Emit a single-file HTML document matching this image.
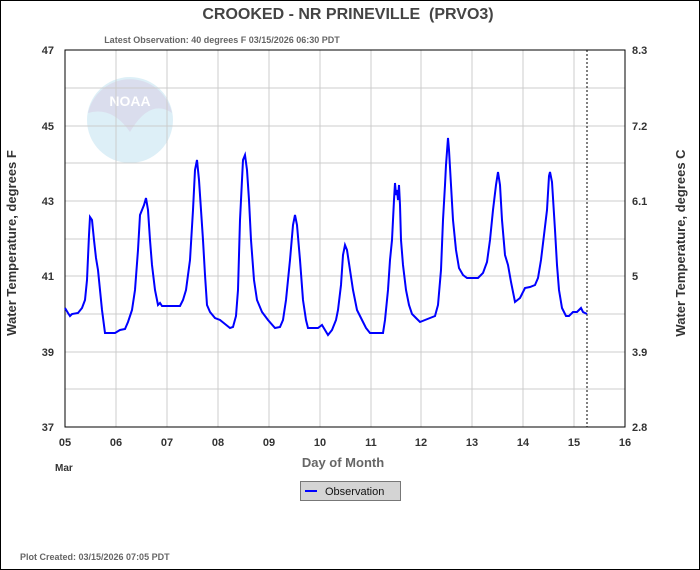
<!DOCTYPE html>
<html><head><style>
body{margin:0;width:700px;height:570px;overflow:hidden;background:#fff}
svg{display:block}
text{font-family:"Liberation Sans",sans-serif}
</style></head><body>
<svg width="700" height="570" xmlns="http://www.w3.org/2000/svg">
<rect x="0.5" y="0.5" width="699" height="569" fill="#fff" stroke="#000"/>
<text x="348" y="19" font-size="16" font-weight="bold" fill="#444" text-anchor="middle">CROOKED - NR PRINEVILLE&#160; (PRVO3)</text>
<text x="222" y="43" font-size="9" font-weight="bold" fill="#666" text-anchor="middle">Latest Observation: 40 degrees F 03/15/2026 06:30 PDT</text>
<g opacity="0.6">
<circle cx="130" cy="120" r="43" fill="#c8e6f2"/>
<path d="M88,113 A43,43 0 0 1 172,113 Q150,98 130,132 Q112,106 88,113Z" fill="#c3c8e2"/>
<text x="130" y="106" font-size="14" font-weight="bold" fill="#fff" text-anchor="middle">NOAA</text>
</g>
<g stroke="#ccc" stroke-width="1">
<line x1="116" y1="50" x2="116" y2="427"/><line x1="167" y1="50" x2="167" y2="427"/><line x1="218" y1="50" x2="218" y2="427"/><line x1="269" y1="50" x2="269" y2="427"/><line x1="320" y1="50" x2="320" y2="427"/><line x1="371" y1="50" x2="371" y2="427"/><line x1="421" y1="50" x2="421" y2="427"/><line x1="472" y1="50" x2="472" y2="427"/><line x1="523" y1="50" x2="523" y2="427"/><line x1="574" y1="50" x2="574" y2="427"/>
<line x1="65" y1="88" x2="625" y2="88"/><line x1="65" y1="126" x2="625" y2="126"/><line x1="65" y1="163" x2="625" y2="163"/><line x1="65" y1="201" x2="625" y2="201"/><line x1="65" y1="239" x2="625" y2="239"/><line x1="65" y1="276" x2="625" y2="276"/><line x1="65" y1="314" x2="625" y2="314"/><line x1="65" y1="352" x2="625" y2="352"/><line x1="65" y1="389" x2="625" y2="389"/>
</g>
<rect x="65" y="50" width="560" height="377" fill="none" stroke="#000"/>
<line x1="587" y1="50" x2="587" y2="427" stroke="#000" stroke-dasharray="2,2"/>
<polyline fill="none" stroke="#0000ff" stroke-width="2" points="65,308 68,313 70,316 72,314 78,313 82,308 85,300 87,280 89,235 90,217 92,220 94,240 96,258 98,270 100,290 102,310 105,333 115,333 120,330 125,329 128,322 132,310 135,290 138,250 140,215 142,210 144,205 146,198 148,210 150,240 152,265 155,290 158,305 160,303 162,306 180,306 183,300 186,290 190,260 193,210 195,170 197,160 199,180 201,210 203,240 205,275 207,305 210,312 215,318 220,320 225,324 230,328 233,327 236,316 238,290 240,220 243,160 245,155 247,170 249,200 251,240 254,280 257,300 262,312 268,320 275,328 280,327 283,320 286,300 290,260 293,225 295,215 297,225 300,260 303,300 306,320 308,328 318,328 322,325 325,330 328,335 332,330 336,320 338,310 341,285 343,255 345,245 347,250 350,270 353,290 357,310 362,320 366,328 370,333 383,333 385,320 388,290 390,260 392,240 394,200 395,183 396,195 397,190 398,200 399,185 400,205 401,240 403,265 406,290 409,305 412,314 416,318 420,322 430,318 435,316 438,305 441,270 443,220 445,185 446,165 448,138 449,150 451,185 453,220 456,250 459,268 463,275 467,278 478,278 483,273 487,262 490,240 493,210 496,185 498,172 500,185 502,220 505,255 508,265 511,282 515,302 520,298 525,288 530,287 535,285 538,278 541,260 544,235 547,210 549,176 550,172 552,182 555,230 557,265 559,290 562,308 566,316 569,316 573,312 577,312 579,310 581,308 583,312 587,314"/>
<g font-size="11" font-weight="bold" fill="#333" text-anchor="end">
<text x="54" y="54">47</text><text x="54" y="130">45</text><text x="54" y="205">43</text><text x="54" y="280">41</text><text x="54" y="356">39</text><text x="54" y="431">37</text>
</g>
<g font-size="11" font-weight="bold" fill="#333">
<text x="632" y="54">8.3</text><text x="632" y="130">7.2</text><text x="632" y="205">6.1</text><text x="632" y="280">5</text><text x="632" y="356">3.9</text><text x="632" y="431">2.8</text>
</g>
<g font-size="11" font-weight="bold" fill="#333" text-anchor="middle">
<text x="65" y="446">05</text><text x="116" y="446">06</text><text x="167" y="446">07</text><text x="218" y="446">08</text><text x="269" y="446">09</text><text x="320" y="446">10</text><text x="371" y="446">11</text><text x="421" y="446">12</text><text x="472" y="446">13</text><text x="523" y="446">14</text><text x="574" y="446">15</text><text x="625" y="446">16</text>
</g>
<text x="55" y="471" font-size="10" font-weight="bold" fill="#333">Mar</text>
<text x="343" y="467" font-size="13" font-weight="bold" fill="#666" text-anchor="middle">Day of Month</text>
<text transform="translate(16,243) rotate(-90)" font-size="13" font-weight="bold" fill="#333" text-anchor="middle">Water Temperature, degrees F</text>
<text transform="translate(685,243) rotate(-90)" font-size="13" font-weight="bold" fill="#333" text-anchor="middle">Water Temperature, degrees C</text>
<rect x="300.5" y="481.5" width="100" height="19" fill="#d4d4d4" stroke="#777"/>
<line x1="305" y1="491" x2="317" y2="491" stroke="#0000ff" stroke-width="2"/>
<text x="325" y="495" font-size="11" fill="#111">Observation</text>
<text x="20" y="560" font-size="9" font-weight="bold" fill="#666">Plot Created: 03/15/2026 07:05 PDT</text>
</svg>
</body></html>
